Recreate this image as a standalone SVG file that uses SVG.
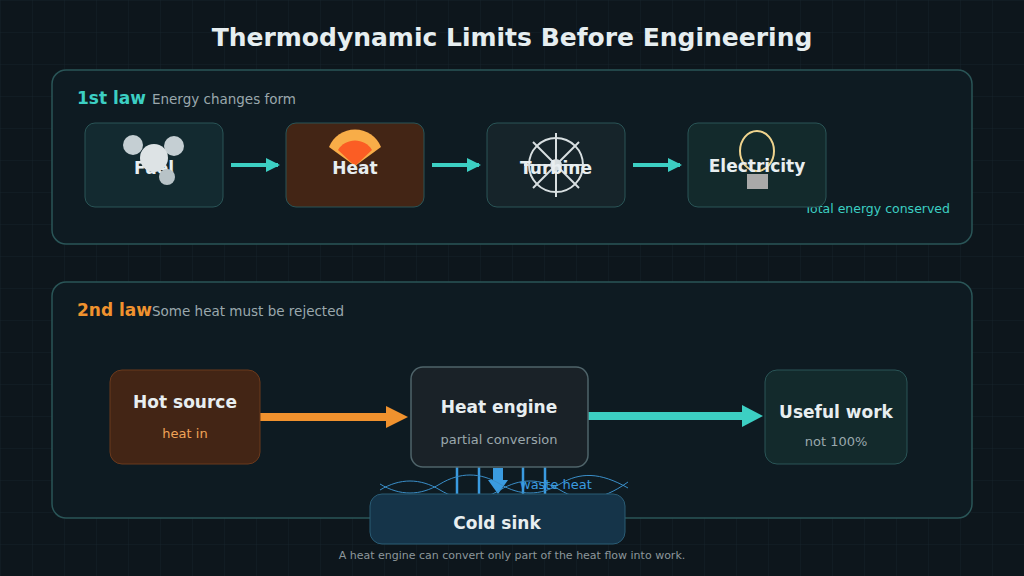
<svg xmlns="http://www.w3.org/2000/svg" width="1024" height="576" viewBox="0 0 1024 576">
<defs>
<pattern id="grid" width="32" height="32" patternUnits="userSpaceOnUse"><path d="M32 0H0V32" fill="none" stroke="#16222a" stroke-width="1"/></pattern>
<marker id="ta" markerWidth="14" markerHeight="14" refX="12" refY="7" orient="auto" markerUnits="userSpaceOnUse"><path d="M0,0L14,7L0,14z" fill="#3ccfc3"/></marker>
</defs>
<style>
text{font-family:"DejaVu Sans","Liberation Sans",sans-serif}
.panel{fill:#0e1b22;stroke:#2a5557;stroke-width:1.5}
.nl{font-size:17px;font-weight:bold;fill:#e8eef0;text-anchor:middle}
.sub{font-size:13px;text-anchor:middle}
.arr{stroke:#3ccfc3;stroke-width:4;fill:none}
</style>
<rect width="1024" height="576" fill="#0d161c"/>
<rect width="1024" height="576" fill="url(#grid)"/>
<text x="512" y="46" text-anchor="middle" font-size="25" font-weight="bold" fill="#e6eef0">Thermodynamic Limits Before Engineering</text>
<rect class="panel" x="52" y="70" width="920" height="174" rx="14"/>
<rect class="panel" x="52" y="282" width="920" height="236" rx="14"/>
<text x="77" y="104" font-size="17" font-weight="bold" fill="#3ccfc3">1st law <tspan font-size="13.5" font-weight="normal" fill="#9aa8ad">Energy changes form</tspan></text>
<text x="77" y="316" font-size="17" font-weight="bold" fill="#f0922e">2nd law<tspan font-size="13.5" font-weight="normal" fill="#9aa8ad">Some heat must be rejected</tspan></text>
<text x="950" y="213" text-anchor="end" font-size="12.5" fill="#3ccfc3">Total energy conserved</text>
<g id="connectors">
<line class="arr" x1="231" y1="165" x2="278" y2="165" marker-end="url(#ta)"/>
<line class="arr" x1="432" y1="165" x2="479" y2="165" marker-end="url(#ta)"/>
<line class="arr" x1="633" y1="165" x2="680" y2="165" marker-end="url(#ta)"/>
<line x1="260" y1="417" x2="390" y2="417" stroke="#f0922e" stroke-width="8"/>
<path d="M386,406L408,417L386,428z" fill="#f0922e"/>
<line x1="588" y1="416" x2="745" y2="416" stroke="#3ccfc3" stroke-width="8"/>
<path d="M742,405L763,416L742,427z" fill="#3ccfc3"/>
<g stroke="#3a9be0" stroke-width="2.5"><line x1="457" y1="467" x2="457" y2="494"/><line x1="479" y1="467" x2="479" y2="494"/><line x1="523" y1="467" x2="523" y2="494"/><line x1="545" y1="467" x2="545" y2="494"/></g>
<path d="M493,468h10v12h5l-10,14l-10,-14h5z" fill="#3a9be0"/>
<path d="M380,490 C400,478 420,478 440,490 S480,502 500,490 S540,478 560,490 S600,502 628,482" fill="none" stroke="#3a8ec8" stroke-width="1"/>
<path d="M380,484 C400,496 420,496 440,484 S480,472 500,484 S540,496 560,484 S600,472 628,488" fill="none" stroke="#3a8ec8" stroke-width="1"/>
<text x="520" y="489" font-size="13" fill="#3a9be0">waste heat</text>
</g>
<g id="fuel"><rect x="85" y="123" width="138" height="84" rx="10" fill="#132a30" stroke="#2a5557"/>
<text class="nl" x="154" y="174">Fuel</text>
<circle cx="133" cy="145" r="10" fill="#c5cfd3"/><circle cx="174" cy="146" r="10" fill="#c5cfd3"/><circle cx="154" cy="158" r="14" fill="#dde3e5"/><circle cx="167" cy="177" r="8" fill="#b8c3c7"/></g>
<g id="heat"><rect x="286" y="123" width="138" height="84" rx="10" fill="#432515" stroke="#2a5557"/>
<path d="M329,147 A28,28 0 0 1 381,147 L355,166z" fill="#f8ad48"/><path d="M338,150 A20,20 0 0 1 372,150 L355,166z" fill="#fb5d24"/>
<text class="nl" x="355" y="174">Heat</text></g>
<g id="turbine"><rect x="487" y="123" width="138" height="84" rx="10" fill="#16242a" stroke="#2a5557"/>
<g stroke="#d8dfe1" stroke-width="2" fill="none"><circle cx="556" cy="165" r="27"/><line x1="556" y1="133" x2="556" y2="197"/><line x1="524" y1="165" x2="588" y2="165"/><line x1="533" y1="142" x2="579" y2="188"/><line x1="579" y1="142" x2="533" y2="188"/></g>
<circle cx="556" cy="165" r="6" fill="#d8dfe1"/>
<text class="nl" x="556" y="174">Turbine</text></g>
<g id="electricity"><rect x="688" y="123" width="138" height="84" rx="10" fill="#132a2c" stroke="#2a5557"/>
<ellipse cx="757" cy="151" rx="17" ry="20" fill="none" stroke="#f0d48e" stroke-width="2"/>
<rect x="747" y="174" width="21" height="15" fill="#a9a9a9"/>
<text class="nl" x="757" y="172">Electricity</text></g>
<g id="hot-source"><rect x="110" y="370" width="150" height="94" rx="12" fill="#432515" stroke="#6b3a1d"/>
<text class="nl" x="185" y="408">Hot source</text><text class="sub" x="185" y="438" fill="#f0a458">heat in</text></g>
<g id="heat-engine"><rect x="411" y="367" width="177" height="100" rx="12" fill="#1a2228" stroke="#4f646a" stroke-width="1.5"/>
<text class="nl" x="499" y="413">Heat engine</text><text class="sub" x="499" y="444" fill="#9aa8ad">partial conversion</text></g>
<g id="useful-work"><rect x="765" y="370" width="142" height="94" rx="12" fill="#132a2c" stroke="#2a5557"/>
<text class="nl" x="836" y="418">Useful work</text><text class="sub" x="836" y="446" fill="#9aa8ad">not 100%</text></g>
<g id="cold-sink"><rect x="370" y="494" width="255" height="50" rx="12" fill="#153449" stroke="#2a5c75"/>
<text class="nl" x="497" y="529">Cold sink</text></g>
<text x="512" y="559" text-anchor="middle" font-size="11" fill="#8c979b">A heat engine can convert only part of the heat flow into work.</text>
</svg>
